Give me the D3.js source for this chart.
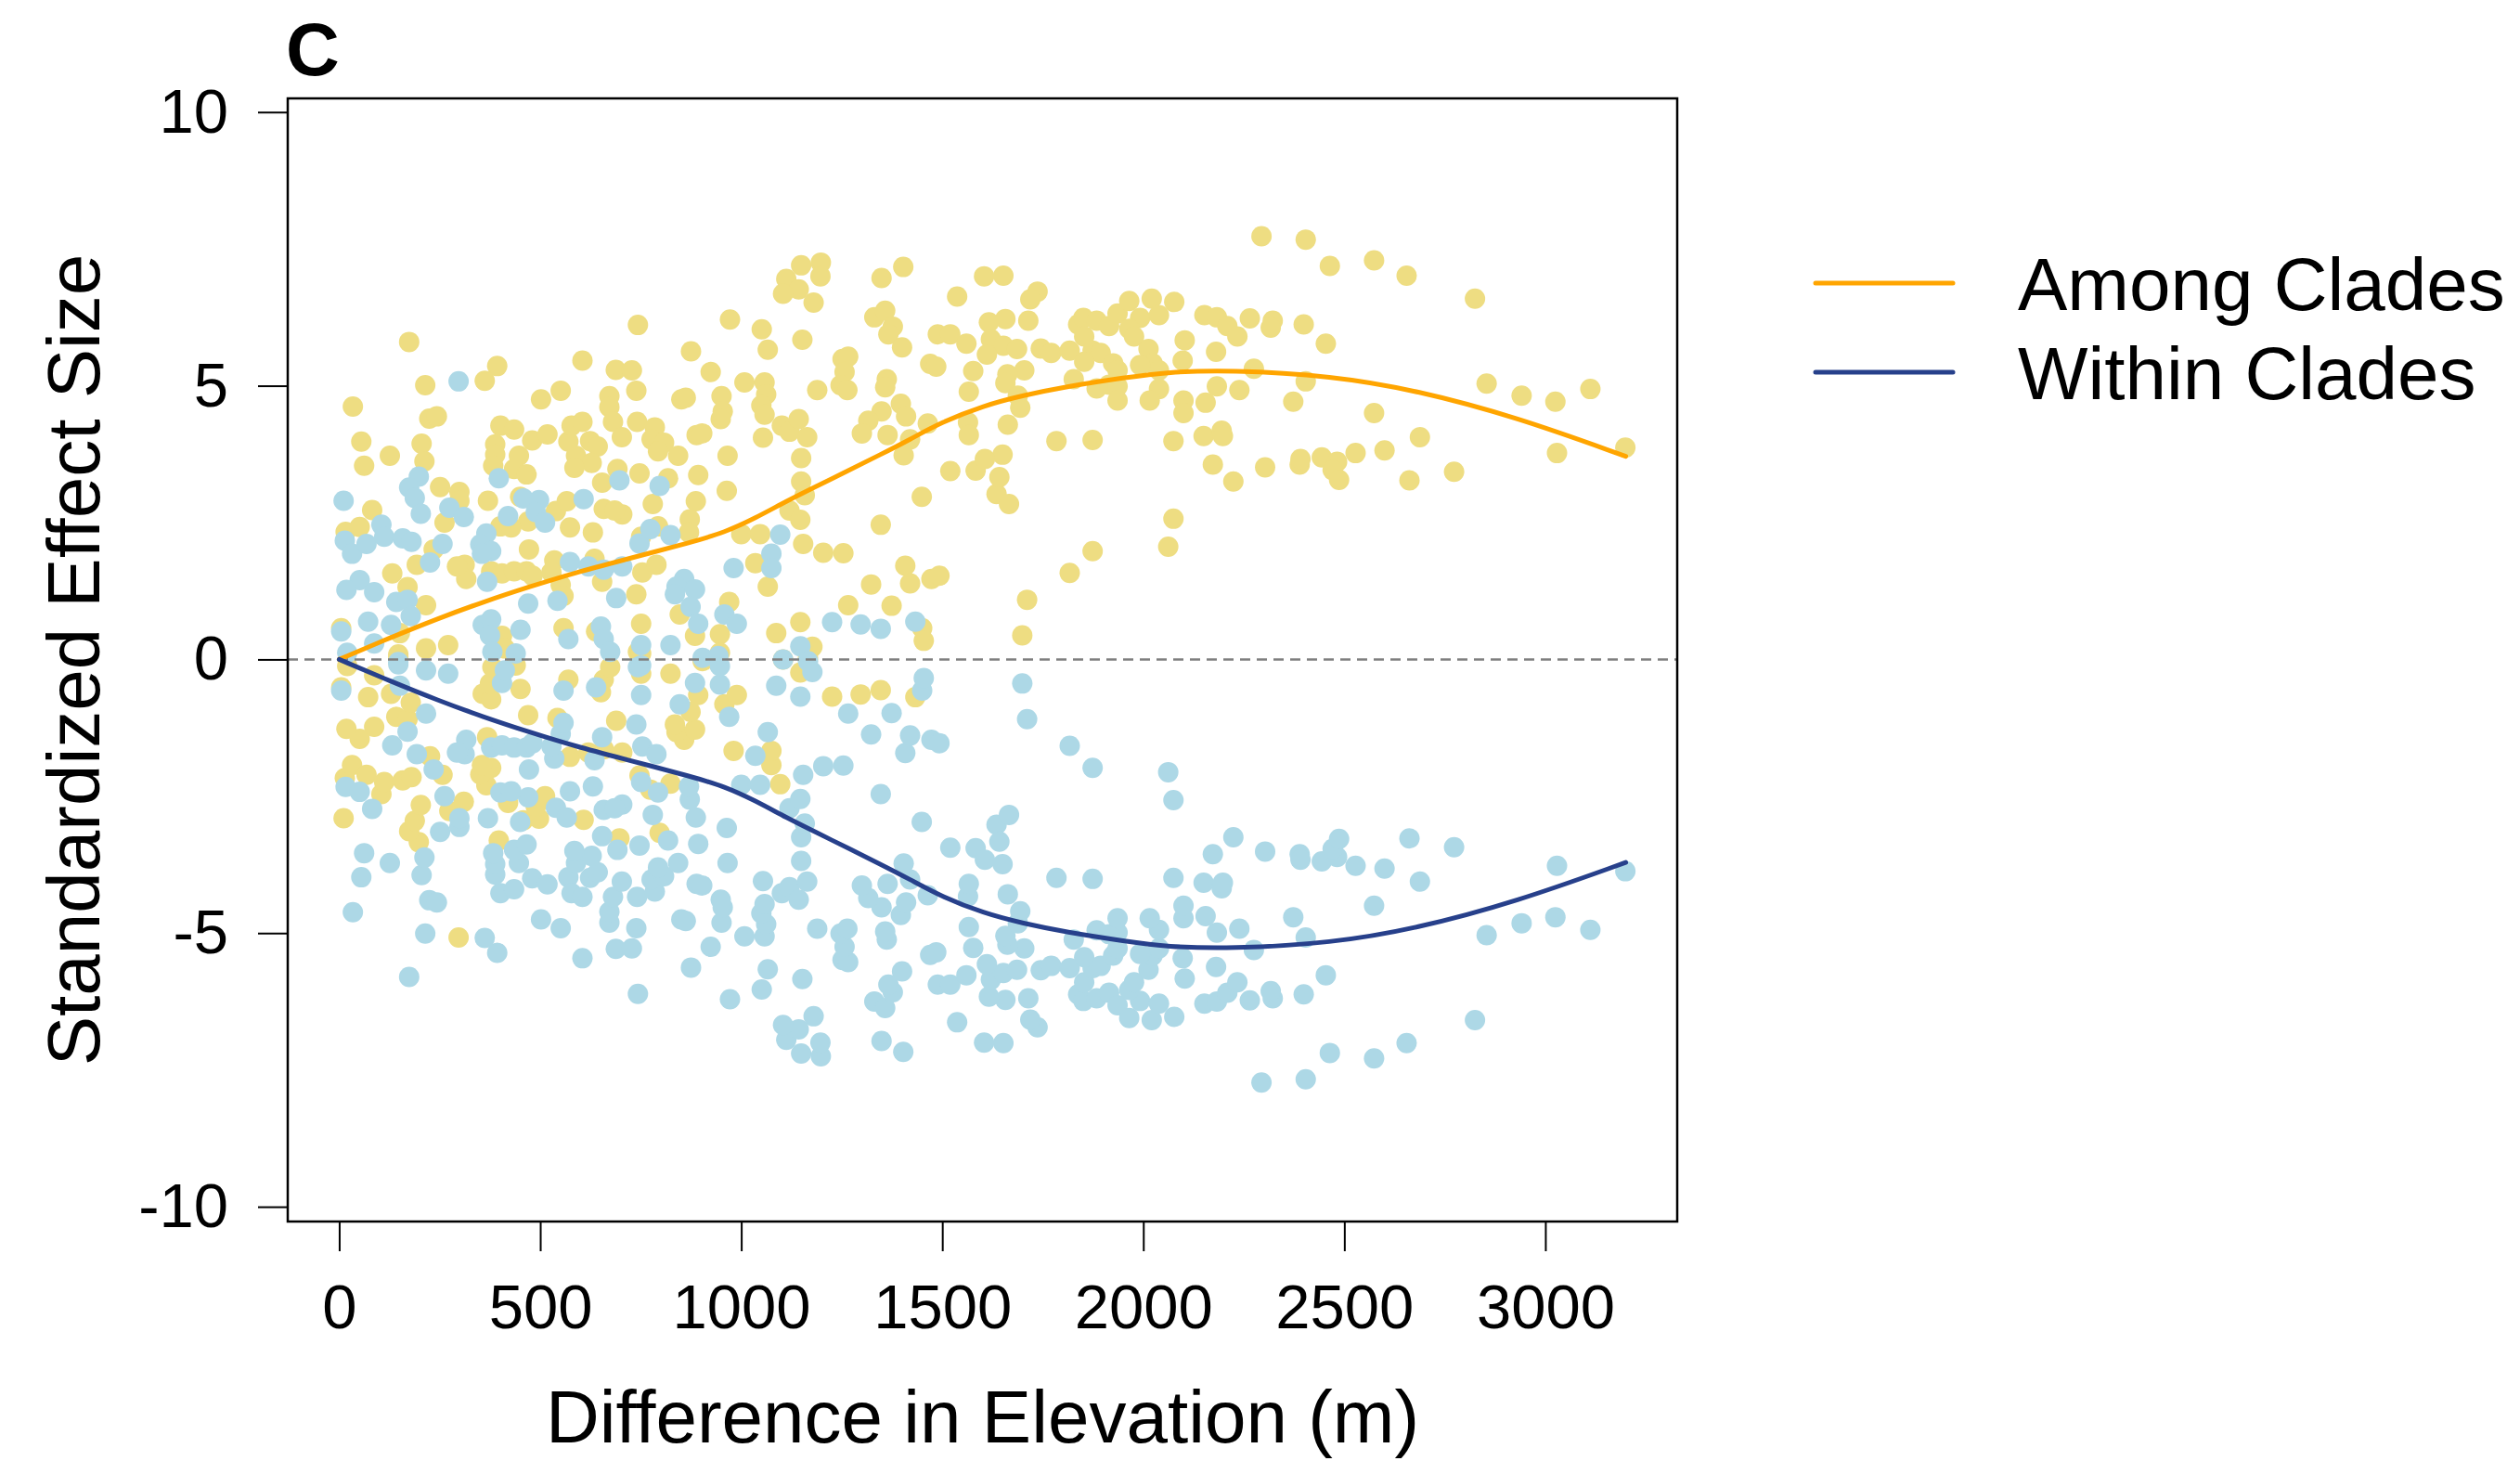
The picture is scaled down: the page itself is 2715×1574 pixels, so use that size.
<!DOCTYPE html>
<html>
<head>
<meta charset="utf-8">
<script src="https://cdn.jsdelivr.net/npm/d3@7"></script>
<style>
  html, body { margin: 0; padding: 0; background: #fff; }
  svg { display: block; font-family: "Liberation Sans", Arial, Helvetica, sans-serif; }
</style>
</head>
<body>
<script>
// Standardized effect size vs. difference in elevation (m)
// Each pair: [elevation difference, SES]

const amongClades = [
  [743,6.11],[174,5.80],[605,5.46],[688,5.29],[728,5.28],[393,5.36],[362,5.09],[214,5.01],[551,4.91],[502,4.75],
  [739,4.91],[34,4.62],[672,4.81],[672,4.61],[224,4.40],[243,4.44],[681,4.34],[741,4.34],[55,3.98],[126,3.72],
  [62,3.54],[205,3.94],[212,3.62],[401,4.27],[435,4.20],[480,4.00],[518,4.11],[388,3.93],[388,3.74],[447,3.72],
  [383,3.54],[435,3.48],[466,3.38],[570,3.98],[578,4.27],[605,4.34],[624,3.99],[643,3.89],[589,3.72],[628,3.59],
  [585,3.50],[703,4.06],[692,3.48],[654,3.23],[747,3.40],[251,3.15],[299,3.06],[299,2.90],[82,2.73],[370,2.90],
  [262,2.50],[16,2.33],[51,2.42],[450,2.97],[470,2.52],[401,2.43],[428,2.41],[539,2.71],[566,2.89],[574,2.41],
  [631,2.32],[658,2.75],[704,2.65],[685,2.72],[751,2.24],[235,2.01],[472,2.01],[193,1.73],[132,1.57],[170,1.32],
  [312,1.73],[316,1.47],[293,1.70],[378,1.61],[405,1.57],[435,1.61],[466,1.61],[481,1.53],[535,1.81],[528,1.59],
  [551,1.36],[558,1.16],[635,1.84],[654,1.42],[739,1.19],[754,1.59],[216,0.99],[151,0.48],[5,0.57],[216,0.20],
  [271,0.26],[147,0.09],[405,0.43],[412,0.20],[558,0.57],[639,0.51],[751,0.65],
  [1149,7.20],[1198,7.25],[1112,6.95],[1143,6.76],[1104,6.68],[1197,7.00],[1180,6.52],[1349,6.97],[1403,7.17],[1537,6.63],
  [1604,7.00],[972,6.21],[1051,6.03],[1066,5.66],[1152,5.84],[875,5.63],[924,5.25],[1331,6.25],[1358,6.37],[1377,6.08],
  [1366,5.94],[1400,5.70],[1489,5.94],[1520,5.94],[1560,5.77],[1470,5.40],[1485,5.35],[1577,5.27],[1566,4.89],[1252,5.49],
  [1266,5.53],[1257,5.25],[1247,5.01],[1264,4.92],[1189,4.92],[1008,5.06],[1058,5.06],[1062,4.84],[1050,4.64],[1058,4.47],
  [1054,4.05],[1362,5.12],[1358,4.97],[1397,4.67],[1410,4.44],[1349,4.53],[1316,4.36],[1300,4.13],[1364,4.10],[1464,4.31],
  [1420,4.02],[1404,3.73],[1564,4.33],[1566,4.10],[1520,3.44],[1583,3.45],[1449,2.97],[1347,2.46],[851,4.75],[862,4.78],
  [951,4.81],[954,4.53],[949,4.39],[889,4.10],[903,4.13],[1101,4.27],[1120,4.16],[1143,4.39],[1164,4.06],[785,4.24],
  [777,4.02],[808,3.96],[793,3.80],[843,3.72],[966,3.72],[818,3.31],[893,3.37],[964,3.08],[780,2.84],[887,2.89],
  [872,2.56],[870,2.32],[793,2.43],[1149,3.68],[1149,3.25],[1158,3.00],[1120,2.72],[1147,2.55],[1000,2.29],[1047,2.29],
  [1154,2.11],[1204,1.95],[1254,1.94],[1035,1.76],[1066,1.33],[789,1.73],[1408,1.71],[1420,1.39],[1323,1.37],[1473,1.47],
  [1493,1.53],[1266,0.99],[1374,0.98],[970,1.05],[847,0.82],[885,0.43],[947,0.46],[947,0.12],[1147,0.68],[1087,0.48],
  [1177,0.23],[1450,0.57],[1454,0.34],[743,0.14],
  [2294,7.73],[2404,7.67],[2464,7.19],[2574,7.29],[2655,7.01],[2825,6.59],[1652,7.01],[1737,6.72],[1719,6.58],[1714,6.19],
  [1657,6.22],[1616,6.16],[1621,5.85],[1652,5.73],[1686,5.67],[1611,5.57],[1704,5.28],[1662,5.21],[1657,5.05],[1688,4.82],
  [1694,4.60],[1663,4.29],[1745,5.68],[1771,5.60],[1838,6.12],[1851,6.24],[1884,6.19],[1915,6.09],[1936,6.32],[1965,6.55],
  [1992,6.24],[2021,6.59],[2039,6.29],[2077,6.53],[1965,6.04],[1977,5.90],[1853,5.90],[1874,5.64],[1894,5.60],[1817,5.64],
  [1853,5.44],[1925,5.41],[1827,5.12],[1884,4.95],[1915,5.02],[1936,5.28],[1936,4.99],[1936,4.73],[2013,5.67],[2023,5.41],
  [2039,5.28],[2039,4.94],[2016,4.73],[1992,5.38],[2103,5.83],[2098,5.46],[2100,4.73],[2100,4.50],[2152,6.29],[2183,6.25],
  [2209,6.09],[2234,5.90],[2181,5.62],[2155,4.69],[2183,4.99],[2239,4.92],[2265,6.23],[2322,6.19],[2317,6.06],[2275,5.31],
  [2399,6.12],[2454,5.77],[2404,5.08],[2373,4.71],[2574,4.50],[1784,3.99],[1874,4.01],[2075,3.99],[2150,4.08],[2195,4.18],
  [2198,4.08],[2173,3.56],[2224,3.25],[2303,3.51],[2389,3.56],[2391,3.66],[2444,3.69],[2482,3.61],[2471,3.46],[2487,3.28],
  [2528,3.77],[2600,3.82],[2688,4.06],[2662,3.27],[2773,3.43],[2075,2.57],[2062,2.06],[1874,1.98],[1817,1.58],[1711,1.09],
  [1699,0.44],[1635,3.02],[1666,2.84],[1642,3.33],[1650,3.74],[1606,3.66],
  [2854,5.04],[2941,4.82],[3025,4.71],[3112,4.94],[3199,3.87],[3029,3.77],
  [297,-5.08],[11,-2.90],[198,-3.34],[174,-3.14],[188,-2.95],[203,-2.66],[105,-2.46],[14,-2.17],[32,-1.93],[68,-2.11],
  [112,-2.24],[158,-2.21],[180,-2.15],[274,-2.77],[310,-2.60],[257,-2.11],[226,-1.77],[397,-3.31],[420,-2.62],[458,-2.94],
  [497,-2.91],[489,-2.69],[512,-2.50],[366,-2.30],[351,-2.10],[378,-1.98],[355,-1.93],[608,-2.93],[697,-3.27],[747,-2.12],
  [574,-1.78],[620,-1.70],[658,-1.64],[704,-1.70],[689,-1.12],[543,-1.07],[470,-1.02],[368,-1.42],[51,-1.45],[18,-1.27],
  [87,-1.23],[142,-1.05],[170,-1.09],[178,-0.79],[72,-0.69],[129,-0.63],[5,-0.51],[87,-0.29],[20,-0.12],[357,-0.63],
  [378,-0.73],[375,-0.44],[451,-0.54],[570,-0.37],[651,-0.60],[658,-0.37],[674,-0.14],[751,-0.26],[439,-0.11],[381,-0.14],
  [147,0.05],
  [797,-3.17],[774,-2.38],[824,-2.27],[1097,-2.28],[1075,-1.93],[1075,-1.67],[981,-1.67],[858,-1.47],[839,-1.33],[885,-1.28],
  [835,-1.19],[874,-0.96],[893,-0.65],[958,-0.82],[989,-0.65],[1226,-0.68],[1297,-0.64],[1347,-0.56],[1433,-0.69],[824,-0.26],
  [1147,-0.24],[1104,0.00],[904,-0.03],[943,-0.06],[751,0.11],[1166,0.03]
];

const withinClades = [
  [743,-6.11],[174,-5.80],[605,-5.46],[688,-5.29],[728,-5.28],[393,-5.36],[362,-5.09],[214,-5.01],[551,-4.91],[502,-4.75],
  [739,-4.91],[34,-4.62],[672,-4.81],[672,-4.61],[224,-4.40],[243,-4.44],[681,-4.34],[741,-4.34],[55,-3.98],[126,-3.72],
  [62,-3.54],[205,-3.94],[212,-3.62],[401,-4.27],[435,-4.20],[480,-4.00],[518,-4.11],[388,-3.93],[388,-3.74],[447,-3.72],
  [383,-3.54],[435,-3.48],[466,-3.38],[570,-3.98],[578,-4.27],[605,-4.34],[624,-3.99],[643,-3.89],[589,-3.72],[628,-3.59],
  [585,-3.50],[703,-4.06],[692,-3.48],[654,-3.23],[747,-3.40],[251,-3.15],[299,-3.06],[299,-2.90],[82,-2.73],[370,-2.90],
  [262,-2.50],[16,-2.33],[51,-2.42],[450,-2.97],[470,-2.52],[401,-2.43],[428,-2.41],[539,-2.71],[566,-2.89],[574,-2.41],
  [631,-2.32],[658,-2.75],[704,-2.65],[685,-2.72],[751,-2.24],[235,-2.01],[472,-2.01],[193,-1.73],[132,-1.57],[170,-1.32],
  [312,-1.73],[316,-1.47],[293,-1.70],[378,-1.61],[405,-1.57],[435,-1.61],[466,-1.61],[481,-1.53],[535,-1.81],[528,-1.59],
  [551,-1.36],[558,-1.16],[635,-1.84],[654,-1.42],[739,-1.19],[754,-1.59],[216,-0.99],[151,-0.48],[5,-0.57],[216,-0.20],
  [271,-0.26],[147,-0.09],[405,-0.43],[412,-0.20],[558,-0.57],[639,-0.51],[751,-0.65],
  [1149,-7.20],[1198,-7.25],[1112,-6.95],[1143,-6.76],[1104,-6.68],[1197,-7.00],[1180,-6.52],[1349,-6.97],[1403,-7.17],[1537,-6.63],
  [1604,-7.00],[972,-6.21],[1051,-6.03],[1066,-5.66],[1152,-5.84],[875,-5.63],[924,-5.25],[1331,-6.25],[1358,-6.37],[1377,-6.08],
  [1366,-5.94],[1400,-5.70],[1489,-5.94],[1520,-5.94],[1560,-5.77],[1470,-5.40],[1485,-5.35],[1577,-5.27],[1566,-4.89],[1252,-5.49],
  [1266,-5.53],[1257,-5.25],[1247,-5.01],[1264,-4.92],[1189,-4.92],[1008,-5.06],[1058,-5.06],[1062,-4.84],[1050,-4.64],[1058,-4.47],
  [1054,-4.05],[1362,-5.12],[1358,-4.97],[1397,-4.67],[1410,-4.44],[1349,-4.53],[1316,-4.36],[1300,-4.13],[1364,-4.10],[1464,-4.31],
  [1420,-4.02],[1404,-3.73],[1564,-4.33],[1566,-4.10],[1520,-3.44],[1583,-3.45],[1449,-2.97],[1347,-2.46],[851,-4.75],[862,-4.78],
  [951,-4.81],[954,-4.53],[949,-4.39],[889,-4.10],[903,-4.13],[1101,-4.27],[1120,-4.16],[1143,-4.39],[1164,-4.06],[785,-4.24],
  [777,-4.02],[808,-3.96],[793,-3.80],[843,-3.72],[966,-3.72],[818,-3.31],[893,-3.37],[964,-3.08],[780,-2.84],[887,-2.89],
  [872,-2.56],[870,-2.32],[793,-2.43],[1149,-3.68],[1149,-3.25],[1158,-3.00],[1120,-2.72],[1147,-2.55],[1000,-2.29],[1047,-2.29],
  [1154,-2.11],[1204,-1.95],[1254,-1.94],[1035,-1.76],[1066,-1.33],[789,-1.73],[1408,-1.71],[1420,-1.39],[1323,-1.37],[1473,-1.47],
  [1493,-1.53],[1266,-0.99],[1374,-0.98],[970,-1.05],[847,-0.82],[885,-0.43],[947,-0.46],[947,-0.12],[1147,-0.68],[1087,-0.48],
  [1177,-0.23],[1450,-0.57],[1454,-0.34],[743,-0.14],
  [2294,-7.73],[2404,-7.67],[2464,-7.19],[2574,-7.29],[2655,-7.01],[2825,-6.59],[1652,-7.01],[1737,-6.72],[1719,-6.58],[1714,-6.19],
  [1657,-6.22],[1616,-6.16],[1621,-5.85],[1652,-5.73],[1686,-5.67],[1611,-5.57],[1704,-5.28],[1662,-5.21],[1657,-5.05],[1688,-4.82],
  [1694,-4.60],[1663,-4.29],[1745,-5.68],[1771,-5.60],[1838,-6.12],[1851,-6.24],[1884,-6.19],[1915,-6.09],[1936,-6.32],[1965,-6.55],
  [1992,-6.24],[2021,-6.59],[2039,-6.29],[2077,-6.53],[1965,-6.04],[1977,-5.90],[1853,-5.90],[1874,-5.64],[1894,-5.60],[1817,-5.64],
  [1853,-5.44],[1925,-5.41],[1827,-5.12],[1884,-4.95],[1915,-5.02],[1936,-5.28],[1936,-4.99],[1936,-4.73],[2013,-5.67],[2023,-5.41],
  [2039,-5.28],[2039,-4.94],[2016,-4.73],[1992,-5.38],[2103,-5.83],[2098,-5.46],[2100,-4.73],[2100,-4.50],[2152,-6.29],[2183,-6.25],
  [2209,-6.09],[2234,-5.90],[2181,-5.62],[2155,-4.69],[2183,-4.99],[2239,-4.92],[2265,-6.23],[2322,-6.19],[2317,-6.06],[2275,-5.31],
  [2399,-6.12],[2454,-5.77],[2404,-5.08],[2373,-4.71],[2574,-4.50],[1784,-3.99],[1874,-4.01],[2075,-3.99],[2150,-4.08],[2195,-4.18],
  [2198,-4.08],[2173,-3.56],[2224,-3.25],[2303,-3.51],[2389,-3.56],[2391,-3.66],[2444,-3.69],[2482,-3.61],[2471,-3.46],[2487,-3.28],
  [2528,-3.77],[2600,-3.82],[2688,-4.06],[2662,-3.27],[2773,-3.43],[2075,-2.57],[2062,-2.06],[1874,-1.98],[1817,-1.58],[1711,-1.09],
  [1699,-0.44],[1635,-3.02],[1666,-2.84],[1642,-3.33],[1650,-3.74],[1606,-3.66],
  [2854,-5.04],[2941,-4.82],[3025,-4.71],[3112,-4.94],[3199,-3.87],[3029,-3.77],
  [297,5.08],[11,2.90],[198,3.34],[174,3.14],[188,2.95],[203,2.66],[105,2.46],[14,2.17],[32,1.93],[68,2.11],
  [112,2.24],[158,2.21],[180,2.15],[274,2.77],[310,2.60],[257,2.11],[226,1.77],[397,3.31],[420,2.62],[458,2.94],
  [497,2.91],[489,2.69],[512,2.50],[366,2.30],[351,2.10],[378,1.98],[355,1.93],[608,2.93],[697,3.27],[747,2.12],
  [574,1.78],[620,1.70],[658,1.64],[704,1.70],[689,1.12],[543,1.07],[470,1.02],[368,1.42],[51,1.45],[18,1.27],
  [87,1.23],[142,1.05],[170,1.09],[178,0.79],[72,0.69],[129,0.63],[5,0.51],[87,0.29],[20,0.12],[357,0.63],
  [378,0.73],[375,0.44],[451,0.54],[570,0.37],[651,0.60],[658,0.37],[674,0.14],[751,0.26],[439,0.11],[381,0.14],
  [147,-0.05],
  [797,3.17],[774,2.38],[824,2.27],[1097,2.28],[1075,1.93],[1075,1.67],[981,1.67],[858,1.47],[839,1.33],[885,1.28],
  [835,1.19],[874,0.96],[893,0.65],[958,0.82],[989,0.65],[1226,0.68],[1297,0.64],[1347,0.56],[1433,0.69],[824,0.26],
  [1147,0.24],[1104,0.00],[904,0.03],[943,0.06],[751,-0.11],[1166,-0.03]
];

// Smoothed trends
const smoothElev   = [0,128,243,358,474,589,704,881,958,1035,1112,1189,1266,1343,1420,1497,1604,1699,1812,1956,2059,2214,2471,2677,2927,3200];
const amongSmooth  = [0,0.40,0.74,1.05,1.33,1.59,1.81,2.15,2.32,2.58,2.89,3.17,3.45,3.73,4.02,4.33,4.64,4.82,4.99,5.15,5.25,5.29,5.18,4.92,4.43,3.71];
const withinSmooth = [0,-0.40,-0.74,-1.05,-1.33,-1.59,-1.81,-2.15,-2.32,-2.58,-2.89,-3.17,-3.45,-3.73,-4.02,-4.33,-4.64,-4.82,-4.99,-5.15,-5.25,-5.29,-5.18,-4.92,-4.43,-3.71];

const xTicks = [0, 500, 1000, 1500, 2000, 2500, 3000];
const yTicks = [-10, -5, 0, 5, 10];
const yTickLabels = ["-10", "-5", "0", "5", "10"];

const seriesNames = ["Among Clades", "Within Clades"];
const lineColors = ["#FFA500", "#27408B"];
const pointColors = ["#EEDD82", "#ADD8E6"];

const W = 2715, H = 1574;
const plot = { left: 310, right: 1807, top: 106, bottom: 1316 };

const svg = d3.select("body").append("svg")
  .attr("width", W).attr("height", H)
  .attr("viewBox", `0 0 ${W} ${H}`);

svg.append("rect").attr("width", W).attr("height", H).attr("fill", "#fff");

const x = d3.scaleLinear().domain([-128, 3328]).range([plot.left, plot.right]);
const y = d3.scaleLinear().domain([-10.27, 10.25]).range([plot.bottom, plot.top]);

// points
const R = 11;
svg.append("g").selectAll("circle").data(amongClades).join("circle")
  .attr("cx", d => x(d[0])).attr("cy", d => y(d[1])).attr("r", R)
  .attr("fill", pointColors[0]);
svg.append("g").selectAll("circle").data(withinClades).join("circle")
  .attr("cx", d => x(d[0])).attr("cy", d => y(d[1])).attr("r", R)
  .attr("fill", pointColors[1]);

// zero reference, dashed
svg.append("line")
  .attr("x1", plot.left).attr("x2", plot.right)
  .attr("y1", y(0)).attr("y2", y(0))
  .attr("stroke", "#7f7f7f").attr("stroke-width", 2.5)
  .attr("stroke-dasharray", "11,7");

// smooth curves
const line = d3.line().x(d => x(d[0])).y(d => y(d[1])).curve(d3.curveBasis);
[amongSmooth, withinSmooth].forEach((vals, i) => {
  svg.append("path")
    .datum(smoothElev.map((e, k) => [e, vals[k]]))
    .attr("d", line)
    .attr("fill", "none")
    .attr("stroke", lineColors[i])
    .attr("stroke-width", 5)
    .attr("stroke-linecap", "round");
});

// plot frame
svg.append("rect")
  .attr("x", plot.left).attr("y", plot.top)
  .attr("width", plot.right - plot.left).attr("height", plot.bottom - plot.top)
  .attr("fill", "none").attr("stroke", "#000").attr("stroke-width", 2.5);

// axes
const yAxis = d3.axisLeft(y).tickValues(yTicks).tickSize(32).tickPadding(32)
  .tickFormat((d, i) => yTickLabels[i]);
const gy = svg.append("g").attr("transform", `translate(${plot.left},0)`).call(yAxis);
const xAxis = d3.axisBottom(x).tickValues(xTicks).tickSize(32).tickPadding(35)
  .tickFormat(d => String(d));
const gx = svg.append("g").attr("transform", `translate(0,${plot.bottom})`).call(xAxis);

[gx, gy].forEach(g => {
  g.select(".domain").remove();
  g.selectAll(".tick line").attr("stroke", "#000").attr("stroke-width", 2);
  g.selectAll(".tick text")
    .attr("fill", "#000")
    .style("font-family", '"Liberation Sans", Arial, sans-serif')
    .style("font-size", "67px");
});

// axis titles
svg.append("text")
  .attr("x", (plot.left + plot.right) / 2).attr("y", 1554)
  .attr("text-anchor", "middle")
  .style("font-size", "80px")
  .text("Difference in Elevation (m)");

svg.append("text")
  .attr("transform", `translate(107,${(plot.top + plot.bottom) / 2}) rotate(-90)`)
  .attr("text-anchor", "middle")
  .style("font-size", "80px")
  .text("Standardized Effect Size");

// panel letter
svg.append("text")
  .attr("x", 308).attr("y", 81)
  .style("font-size", "80px").style("font-weight", "bold")
  .text("C");

// legend
const legend = svg.append("g");
seriesNames.forEach((name, i) => {
  const ly = 305 + i * 96;
  legend.append("line")
    .attr("x1", 1956).attr("x2", 2104).attr("y1", ly).attr("y2", ly)
    .attr("stroke", lineColors[i]).attr("stroke-width", 5).attr("stroke-linecap", "round");
  legend.append("text")
    .attr("x", 2174).attr("y", ly + 29)
    .style("font-size", "80px")
    .text(name);
});
</script>
</body>
</html>
